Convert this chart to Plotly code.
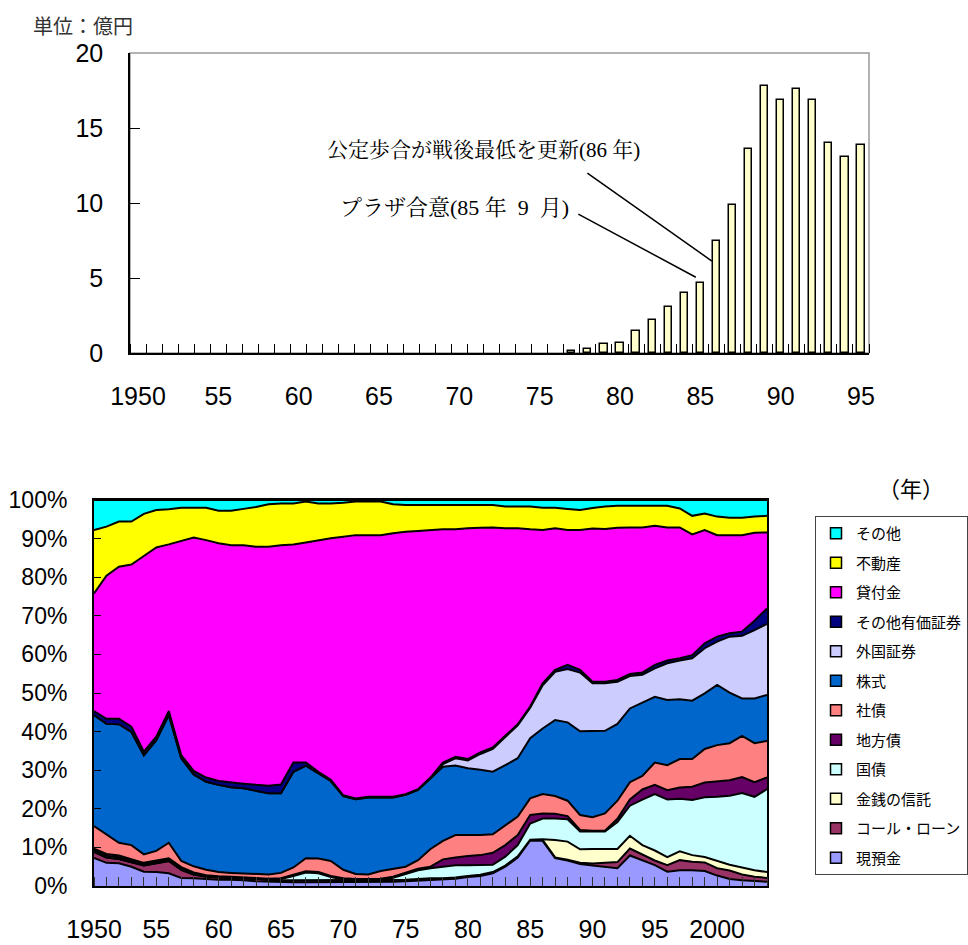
import plotly.graph_objects as go

# ---------------- Top chart data (単位：億円) ----------------
top_years = [1977, 1978, 1979, 1980, 1981, 1982, 1983, 1984, 1985, 1986,
             1987, 1988, 1989, 1990, 1991, 1992, 1993, 1994, 1995]
top_values = [0.15, 0.3, 0.6, 0.7, 1.5, 2.2, 3.1, 4.0, 4.7, 7.5,
              9.9, 13.6, 17.8, 16.9, 17.6, 16.9, 14.0, 13.1, 13.9]
top_tickvals = [1950, 1955, 1960, 1965, 1970, 1975, 1980, 1985, 1990, 1995]
top_ticktext = ["1950", "55", "60", "65", "70", "75", "80", "85", "90", "95"]

# ---------------- Bottom chart data (share, %) ----------------
years = list(range(1950, 2005))

cash = [7.3, 6.0, 5.9, 5.0, 3.7, 3.6, 3.3, 2.1, 2.0, 1.8,
        1.6, 1.6, 1.5, 1.2, 1.1, 1.0, 1.0, 1.0, 1.0, 1.0,
        1.0, 1.0, 1.0, 1.0, 1.1, 1.2, 1.4, 1.6, 1.7, 1.9,
        2.3, 2.6, 3.3, 5.0, 7.4, 11.8, 11.7, 7.2, 6.6, 5.7,
        5.3, 5.0, 4.6, 7.9, 6.6, 5.4, 3.7, 4.1, 4.1, 3.9,
        2.7, 1.8, 1.5, 1.3, 1.1]
call_loan = [1.5, 1.4, 1.1, 1.1, 1.6, 2.3, 3.2, 2.1, 1.0, 0.6,
             0.6, 0.5, 0.5, 0.6, 0.5, 0.5, 0.5, 0.5, 0.5, 0.5,
             0.5, 0.5, 0.5, 0.5, 0.5, 0.4, 0.4, 0.4, 0.3, 0.3,
             0.3, 0.3, 0.3, 0.3, 0.3, 0.2, 0.2, 0.2, 0.2, 0.3,
             0.5, 1.0, 1.6, 1.8, 1.6, 1.2, 1.7, 2.6, 2.2, 2.2,
             1.9, 2.2, 1.5, 1.1, 1.0]
money_trust = [0, 0, 0, 0, 0, 0, 0, 0, 0, 0,
               0, 0, 0, 0, 0, 0, 0, 0, 0, 0,
               0, 0, 0, 0, 0, 0, 0, 0, 0, 0,
               0, 0, 0, 0, 0, 0, 0.2, 4.5, 4.7, 3.5,
               3.8, 3.6, 3.4, 3.3, 2.4, 2.6, 2.1, 2.3, 1.7, 1.4,
               1.9, 1.5, 1.8, 1.7, 1.5]
jgb = [0.4, 0.4, 0.4, 0.4, 0.3, 0.3, 0.3, 0.3, 0.2, 0.2,
       0.1, 0.1, 0.1, 0.1, 0.1, 0.3, 1.1, 2.0, 1.8, 0.8,
       0.2, 0.0, 0.0, 0.1, 0.5, 1.5, 2.3, 2.6, 3.0, 3.2,
       2.8, 2.5, 1.9, 2.3, 2.9, 4.2, 5.4, 5.6, 5.8, 4.6,
       4.5, 4.5, 7.0, 7.8, 11.8, 14.6, 14.9, 13.6, 14.3, 15.5,
       16.6, 17.9, 19.3, 19.0, 21.5]
muni = [0.5, 0.5, 0.5, 0.5, 0.4, 0.4, 0.4, 0.4, 0.3, 0.2,
        0.2, 0.2, 0.2, 0.2, 0.2, 0.2, 0.3, 0.3, 0.3, 0.3,
        0.3, 0.3, 0.3, 0.3, 0.3, 0.3, 0.4, 0.4, 1.9, 2.0,
        2.4, 2.6, 3.1, 3.0, 2.6, 2.2, 1.3, 1.2, 0.8, 0.4,
        0.2, 0.2, 0.8, 1.6, 2.6, 2.4, 2.4, 2.9, 3.4, 3.8,
        4.0, 4.0, 4.1, 3.8, 3.0]
corp = [5.8, 5.1, 3.3, 3.6, 2.2, 2.5, 4.0, 1.6, 1.6, 1.4,
        1.1, 1.0, 1.0, 1.0, 1.1, 1.4, 1.9, 3.4, 3.5, 3.9,
        2.2, 1.3, 1.2, 2.0, 2.1, 1.6, 2.2, 4.6, 4.8, 5.8,
        5.4, 5.2, 4.8, 5.2, 4.8, 4.3, 5.0, 4.6, 4.0, 3.9,
        3.5, 4.5, 4.7, 4.5, 3.5, 5.8, 6.5, 7.4, 7.2, 8.7,
        9.4, 9.6, 10.7, 10.1, 9.5]
stock = [28.8, 28.6, 30.7, 29.3, 25.7, 28.7, 33.1, 26.6, 23.8, 22.8,
         22.6, 22.2, 22.0, 21.5, 21.0, 20.6, 24.8, 24.0, 22.1, 20.7,
         19.1, 19.4, 19.9, 19.0, 18.4, 18.6, 18.2, 18.3, 19.2, 18.0,
         17.3, 16.9, 16.2, 15.5, 15.1, 15.6, 17.0, 19.7, 20.3, 21.7,
         22.3, 21.4, 19.9, 19.1, 19.0, 17.0, 16.9, 15.5, 15.1, 14.4,
         15.6, 13.1, 9.7, 11.6, 11.9]
foreign = [0, 0, 0, 0, 0, 0, 0, 0, 0, 0,
           0, 0, 0, 0, 0, 0, 0, 0, 0, 0,
           0, 0, 0, 0, 0, 0, 0, 0, 0.7, 1.9,
           2.0, 4.1, 5.9, 7.3, 8.5, 7.9, 11.2, 12.5, 13.8, 15.2,
           12.4, 12.3, 10.9, 8.4, 7.2, 7.4, 9.5, 10.0, 11.0, 11.7,
           11.2, 14.5, 16.2, 17.7, 18.4]
other_sec = [1.0, 1.3, 1.4, 1.4, 0.9, 0.9, 1.0, 0.8, 0.9, 1.1,
             1.0, 1.2, 1.2, 1.6, 2.0, 2.3, 2.4, 0.8, 0.4, 0.3,
             0.2, 0.2, 0.2, 0.2, 0.2, 0.2, 0.2, 0.2, 0.4, 0.4,
             0.4, 0.4, 0.4, 0.3, 0.3, 0.3, 0.5, 0.5, 1.1, 0.7,
             0.4, 0.4, 0.5, 0.5, 0.6, 0.9, 0.7, 0.6, 0.8, 1.3,
             1.3, 0.9, 1.1, 2.4, 4.0]
loans = [30.5, 37.1, 39.4, 42.0, 50.7, 49.0, 43.2, 55.6, 60.5, 61.5,
         61.6, 61.5, 61.8, 61.7, 61.9, 62.0, 56.5, 57.0, 60.0, 62.6,
         67.0, 68.2, 67.8, 67.8, 68.3, 68.0, 66.9, 64.1, 60.4, 58.9,
         59.8, 58.2, 57.0, 53.8, 50.8, 45.9, 39.7, 36.7, 34.9, 36.2,
         39.7, 39.6, 39.4, 38.0, 37.6, 36.0, 34.5, 33.9, 31.3, 29.3,
         26.3, 25.4, 25.0, 22.8, 19.7]
real_estate = [16.4, 12.7, 11.7, 11.1, 10.9, 9.7, 9.1, 8.5, 7.7, 8.4,
               8.4, 8.9, 9.4, 10.3, 11.0, 10.8, 10.6, 10.6, 9.5, 9.0,
               8.8, 8.7, 8.7, 8.7, 7.5, 6.9, 6.7, 6.5, 6.3, 6.3,
               6.0, 5.9, 5.8, 5.6, 5.6, 5.9, 5.8, 5.3, 5.5, 5.2,
               5.3, 5.8, 5.7, 5.6, 5.6, 5.2, 5.6, 4.9, 4.8, 4.3,
               4.8, 4.5, 4.5, 4.2, 4.3]
others = [7.8, 6.9, 5.6, 5.6, 3.6, 2.6, 2.4, 2.0, 2.0, 2.0,
          2.8, 2.8, 2.3, 1.8, 1.1, 0.9, 0.9, 0.4, 0.9, 0.9,
          0.7, 0.4, 0.4, 0.4, 1.1, 1.3, 1.3, 1.3, 1.3, 1.3,
          1.3, 1.3, 1.3, 1.7, 1.7, 1.7, 2.0, 2.0, 2.3, 2.6,
          2.1, 1.7, 1.5, 1.5, 1.5, 1.5, 1.5, 2.2, 4.1, 3.5,
          4.3, 4.6, 4.6, 4.3, 4.1]

bottom_tickvals = [1950, 1955, 1960, 1965, 1970, 1975, 1980, 1985, 1990, 1995, 2000]
bottom_ticktext = ["1950", "55", "60", "65", "70", "75", "80", "85", "90", "95", "2000"]
pct_tickvals = [0, 10, 20, 30, 40, 50, 60, 70, 80, 90, 100]
pct_ticktext = ["0%", "10%", "20%", "30%", "40%", "50%", "60%", "70%", "80%", "90%", "100%"]

# stacking order bottom -> top
series = [
    ("現預金", cash, "#9999FF"),
    ("コール・ローン", call_loan, "#993366"),
    ("金銭の信託", money_trust, "#FFFFCC"),
    ("国債", jgb, "#CCFFFF"),
    ("地方債", muni, "#660066"),
    ("社債", corp, "#FF8080"),
    ("株式", stock, "#0066CC"),
    ("外国証券", foreign, "#CCCCFF"),
    ("その他有価証券", other_sec, "#000080"),
    ("貸付金", loans, "#FF00FF"),
    ("不動産", real_estate, "#FFFF00"),
    ("その他", others, "#00FFFF"),
]

W, H = 968, 945
def px(x):
    return x / W
def py(y):
    return 1 - y / H

NUM_FONT = "Liberation Sans, Arial, sans-serif"
JP_FONT = "Noto Sans CJK JP, sans-serif"
SERIF_FONT = "Liberation Serif, Noto Serif CJK JP, Noto Sans CJK JP, serif"

fig = go.Figure()

# top bars
fig.add_trace(go.Bar(
    x=top_years, y=top_values, width=0.45,
    marker=dict(color="#FFFFCC", line=dict(color="black", width=1.5)),
    showlegend=False, xaxis="x", yaxis="y", hoverinfo="x+y",
))

# bottom stacked areas
for i, (name, vals, color) in enumerate(series):
    kw = dict(groupnorm="percent") if i == 0 else {}
    fig.add_trace(go.Scatter(
        x=years, y=vals, name=name, stackgroup="one", mode="lines",
        line=dict(color="black", width=2), fillcolor=color,
        showlegend=False, xaxis="x2", yaxis="y2", **kw,
    ))

# legend entries (top to bottom order as in reference)
for i, (name, vals, color) in enumerate(reversed(series)):
    fig.add_trace(go.Scatter(
        x=[None], y=[None], mode="markers", name=name,
        marker=dict(symbol="square", size=11, color=color,
                    line=dict(color="black", width=1.5)),
        legendgroup="g%d" % i, showlegend=True, xaxis="x2", yaxis="y2",
    ))

fig.update_layout(
    width=W, height=H,
    margin=dict(l=0, r=0, t=0, b=0, pad=0, autoexpand=False),
    paper_bgcolor="white", plot_bgcolor="white",
    bargap=0,
    xaxis=dict(
        domain=[px(130), px(869)], anchor="y", automargin=False,
        range=[1949.5, 1995.5],
        tickmode="array", tickvals=top_tickvals, ticktext=top_ticktext,
        ticks="", showgrid=False, zeroline=False,
        showline=True, linecolor="black", linewidth=1.5,
        tickfont=dict(family=NUM_FONT, size=25, color="black"),
        ticklabelstandoff=20,
        minor=dict(ticks="inside", ticklen=9, tickwidth=1, tickcolor="black",
                   tick0=1949.5, dtick=1, showgrid=False),
    ),
    yaxis=dict(
        domain=[py(353), py(53)], anchor="x", automargin=False,
        range=[0, 20], tickmode="array", tickvals=[0, 5, 10, 15, 20],
        ticks="inside", ticklen=10, tickcolor="black", tickwidth=1,
        showgrid=False, zeroline=False,
        showline=True, linecolor="black", linewidth=1.5,
        tickfont=dict(family=NUM_FONT, size=25, color="black"),
        ticklabelstandoff=20,
    ),
    xaxis2=dict(
        domain=[px(94), px(767)], anchor="y2", automargin=False,
        range=[1950, 2004],
        tickmode="array", tickvals=bottom_tickvals, ticktext=bottom_ticktext,
        ticks="", showgrid=False, zeroline=False,
        showline=True, mirror=True, linecolor="black", linewidth=2,
        tickfont=dict(family=NUM_FONT, size=25, color="black"),
        ticklabelstandoff=20,
        minor=dict(ticks="inside", ticklen=9, tickwidth=1, tickcolor="#333",
                   tick0=1950, dtick=1, showgrid=False),
    ),
    yaxis2=dict(
        domain=[py(886), py(500)], anchor="x2", automargin=False,
        range=[0, 100], tickmode="array",
        tickvals=pct_tickvals, ticktext=pct_ticktext,
        ticks="inside", ticklen=7, tickcolor="black", tickwidth=1,
        showgrid=False, zeroline=False,
        showline=True, mirror=True, linecolor="black", linewidth=2,
        tickfont=dict(family=NUM_FONT, size=23, color="black"),
        ticklabelstandoff=20,
    ),
    legend=dict(
        x=px(815), y=py(516), xanchor="left", yanchor="top",
        bordercolor="#444", borderwidth=1, bgcolor="white",
        font=dict(family=JP_FONT, size=15, color="black"),
        traceorder="grouped", tracegroupgap=7,
        itemwidth=30,
    ),
    showlegend=True,
)

# grey top/right border for the top chart
fig.add_shape(type="rect", xref="x domain", yref="y domain",
              x0=0, x1=1, y0=0, y1=1, line=dict(color="#999999", width=1.5),
              layer="below")

annotations = [
    dict(text="単位：億円", x=px(31), y=py(25), xref="paper", yref="paper",
         xanchor="left", yanchor="middle", showarrow=False,
         font=dict(family=JP_FONT, size=20, color="#333333")),
    dict(text="公定歩合が戦後最低を更新(86 年)", x=px(642), y=py(150),
         xref="paper", yref="paper", xanchor="right", yanchor="middle",
         showarrow=False, font=dict(family=SERIF_FONT, size=21, color="black")),
    dict(text="プラザ合意(85 年  9  月)", x=px(571), y=py(207),
         xref="paper", yref="paper", xanchor="right", yanchor="middle",
         showarrow=False, font=dict(family=SERIF_FONT, size=22, color="black")),
    dict(text="", x=1985.72, y=6.13, xref="x", yref="y", showarrow=True,
         arrowhead=0, arrowwidth=1.5, arrowcolor="black", ax=-126, ay=-89),
    dict(text="", x=1984.72, y=5.05, xref="x", yref="y", showarrow=True,
         arrowhead=0, arrowwidth=1.5, arrowcolor="black", ax=-119, ay=-64),
    dict(text="（年）", x=px(911), y=py(487), xref="paper", yref="paper",
         xanchor="center", yanchor="middle", showarrow=False,
         font=dict(family=JP_FONT, size=22, color="black")),
]
fig.update_layout(annotations=annotations)

fig.write_html(
    "out.html",
    config={"displayModeBar": False},
    post_script="document.body.style.margin='0';document.body.style.padding='0';",
)
